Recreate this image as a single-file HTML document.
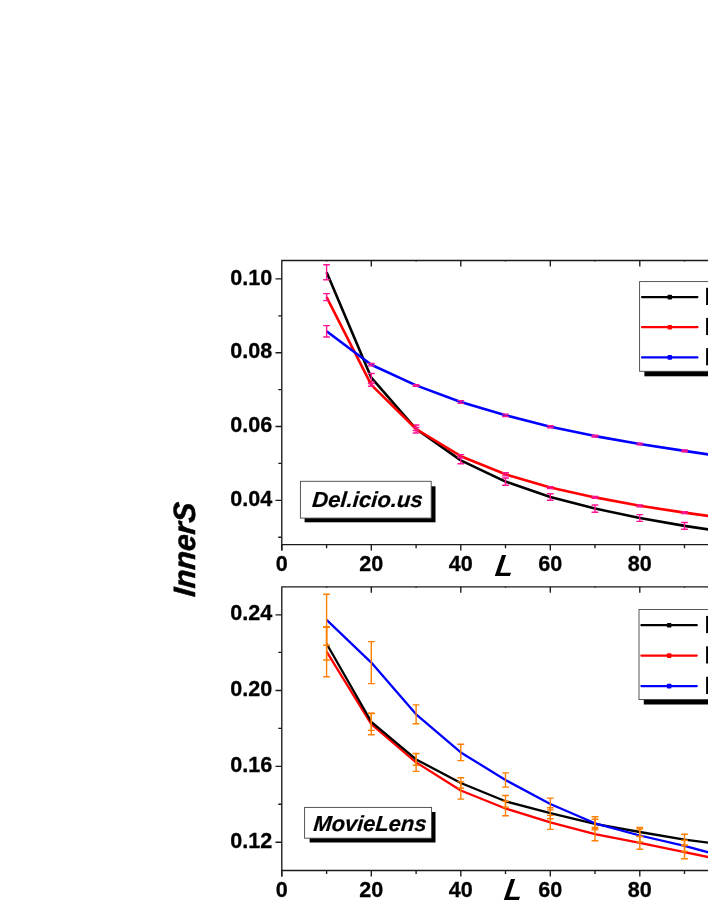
<!DOCTYPE html>
<html><head><meta charset="utf-8"><title>chart</title>
<style>
html,body{margin:0;padding:0;background:#fff;}
body{width:708px;height:917px;overflow:hidden;font-family:"Liberation Sans",sans-serif;}
svg{display:block;will-change:transform;}
.t{stroke:#000;stroke-width:0.3px;font:bold 22.9px "Liberation Sans",sans-serif;fill:#000;}
.b{stroke:#000;stroke-width:0.2px;font:italic bold 21.7px "Liberation Sans",sans-serif;fill:#000;}
.L{font:italic bold 30.4px "Liberation Sans",sans-serif;fill:#000;}
.Y{stroke:#000;stroke-width:0.5px;font:italic bold 30.8px "Liberation Sans",sans-serif;fill:#000;}
</style></head><body>
<svg width="708" height="917" viewBox="0 0 708 917">
<rect width="708" height="917" fill="#fff"/>
<path fill="none" stroke="#1a1a1a" stroke-width="1.35" d="M281.8 260.5 V550.6 M281.2 260.5 H708 M281.2 544.6 H708"/>
<path fill="none" stroke="#1a1a1a" stroke-width="1.35" d="M281.8 544.6 v6 M326.6 544.6 v3.6 M326.6 260.5 v1 M371.3 544.6 v6 M371.3 260.5 v6 M416.1 544.6 v3.6 M416.1 260.5 v1 M460.8 544.6 v6 M460.8 260.5 v6 M505.5 544.6 v3.6 M505.5 260.5 v1 M550.3 544.6 v6 M550.3 260.5 v6 M595.0 544.6 v3.6 M595.0 260.5 v1 M639.8 544.6 v6 M639.8 260.5 v6 M684.5 544.6 v3.6 M684.5 260.5 v1 M275.5 278.9 H281.8 M275.5 352.7 H281.8 M275.5 426.5 H281.8 M275.5 500.3 H281.8 M278.3 315.8 H281.8 M278.3 389.6 H281.8 M278.3 463.4 H281.8 M278.3 537.2 H281.8"/>
<path fill="none" stroke="#1a1a1a" stroke-width="1.35" d="M281.8 586.8 V876.5 M281.2 586.8 H708 M281.2 870.5 H708"/>
<path fill="none" stroke="#1a1a1a" stroke-width="1.35" d="M281.8 870.5 v6 M326.6 870.5 v3.6 M326.6 586.8 v1 M371.3 870.5 v6 M371.3 586.8 v6 M416.1 870.5 v3.6 M416.1 586.8 v1 M460.8 870.5 v6 M460.8 586.8 v6 M505.5 870.5 v3.6 M505.5 586.8 v1 M550.3 870.5 v6 M550.3 586.8 v6 M595.0 870.5 v3.6 M595.0 586.8 v1 M639.8 870.5 v6 M639.8 586.8 v6 M684.5 870.5 v3.6 M684.5 586.8 v1 M275.5 614.8 H281.8 M275.5 690.5 H281.8 M275.5 766.3 H281.8 M275.5 842.2 H281.8 M278.3 652.4 H281.8 M278.3 728.3 H281.8 M278.3 804.2 H281.8"/>
<polyline fill="none" stroke="#000000" stroke-width="2.6" stroke-linejoin="round" points="326.6,272.3 371.3,377.7 416.1,429.0 460.8,460.4 505.5,481.6 550.3,497.0 595.0,508.6 639.8,518.0 684.5,525.9 729.3,532.6"/>
<path fill="none" stroke="#ff1493" stroke-width="1.4" d="M326.6 264.8 V279.8 M323.2 264.8 H329.9 M323.2 279.8 H329.9 M371.3 373.5 V381.9 M367.9 373.5 H374.7 M367.9 381.9 H374.7 M416.1 425.0 V433.0 M412.7 425.0 H419.4 M412.7 433.0 H419.4 M460.8 457.0 V463.8 M457.4 457.0 H464.2 M457.4 463.8 H464.2 M505.5 478.0 V485.2 M502.1 478.0 H508.9 M502.1 485.2 H508.9 M550.3 493.8 V500.2 M546.9 493.8 H553.7 M546.9 500.2 H553.7 M595.0 505.0 V512.2 M591.6 505.0 H598.4 M591.6 512.2 H598.4 M639.8 514.6 V521.4 M636.4 514.6 H643.2 M636.4 521.4 H643.2 M684.5 522.5 V529.3 M681.1 522.5 H687.9 M681.1 529.3 H687.9"/>
<polyline fill="none" stroke="#ff0000" stroke-width="2.6" stroke-linejoin="round" points="326.6,297.1 371.3,384.9 416.1,429.0 460.8,456.2 505.5,474.3 550.3,487.6 595.0,497.4 639.8,505.8 684.5,512.6 729.3,518.8"/>
<path fill="none" stroke="#ff1493" stroke-width="1.4" d="M326.6 293.6 V300.6 M323.2 293.6 H329.9 M323.2 300.6 H329.9 M371.3 383.5 V386.3 M367.9 383.5 H374.7 M367.9 386.3 H374.7 M416.1 427.5 V430.5 M412.7 427.5 H419.4 M412.7 430.5 H419.4 M460.8 454.6 V457.8 M457.4 454.6 H464.2 M457.4 457.8 H464.2 M505.5 472.7 V475.9 M502.1 472.7 H508.9 M502.1 475.9 H508.9 M550.3 486.6 V488.6 M546.9 486.6 H553.7 M546.9 488.6 H553.7 M595.0 496.5 V498.3 M591.6 496.5 H598.4 M591.6 498.3 H598.4 M639.8 504.9 V506.7 M636.4 504.9 H643.2 M636.4 506.7 H643.2 M684.5 511.7 V513.5 M681.1 511.7 H687.9 M681.1 513.5 H687.9"/>
<polyline fill="none" stroke="#0000ff" stroke-width="2.6" stroke-linejoin="round" points="326.6,331.3 371.3,364.7 416.1,385.4 460.8,402.0 505.5,415.3 550.3,426.7 595.0,436.1 639.8,444.0 684.5,450.9 729.3,457.5"/>
<path fill="none" stroke="#ff1493" stroke-width="1.4" d="M326.6 325.6 V337.0 M323.2 325.6 H329.9 M323.2 337.0 H329.9 M371.3 363.5 V365.9 M367.9 363.5 H374.7 M367.9 365.9 H374.7 M416.1 384.6 V386.2 M412.7 384.6 H419.4 M412.7 386.2 H419.4 M460.8 400.6 V403.4 M457.4 400.6 H464.2 M457.4 403.4 H464.2 M505.5 414.1 V416.5 M502.1 414.1 H508.9 M502.1 416.5 H508.9 M550.3 425.7 V427.7 M546.9 425.7 H553.7 M546.9 427.7 H553.7 M595.0 435.2 V437.0 M591.6 435.2 H598.4 M591.6 437.0 H598.4 M639.8 443.1 V444.9 M636.4 443.1 H643.2 M636.4 444.9 H643.2 M684.5 450.0 V451.8 M681.1 450.0 H687.9 M681.1 451.8 H687.9"/>
<polyline fill="none" stroke="#ff0000" stroke-width="2.3" stroke-linejoin="round" points="326.6,651.7 371.3,724.1 416.1,762.4 460.8,790.5 505.5,808.5 550.3,822.4 595.0,834.1 639.8,842.8 684.5,852.2 729.3,861.4"/>
<polyline fill="none" stroke="#000000" stroke-width="2.3" stroke-linejoin="round" points="326.6,643.7 371.3,721.8 416.1,759.4 460.8,783.0 505.5,801.3 550.3,813.2 595.0,823.9 639.8,832.0 684.5,839.6 729.3,845.5"/>
<polyline fill="none" stroke="#0000ff" stroke-width="2.3" stroke-linejoin="round" points="326.6,619.8 371.3,662.6 416.1,714.3 460.8,752.4 505.5,780.0 550.3,804.0 595.0,823.3 639.8,835.5 684.5,845.9 729.3,858.1"/>
<path fill="none" stroke="#ff7f00" stroke-width="1.4" d="M326.6 594.3 V645.3 M323.2 594.3 H329.9 M323.2 645.3 H329.9 M371.3 641.6 V683.6 M367.9 641.6 H374.7 M367.9 683.6 H374.7 M416.1 704.9 V723.7 M412.7 704.9 H419.4 M412.7 723.7 H419.4 M460.8 744.2 V760.6 M457.4 744.2 H464.2 M457.4 760.6 H464.2 M505.5 772.9 V787.1 M502.1 772.9 H508.9 M502.1 787.1 H508.9 M550.3 798.1 V809.9 M546.9 798.1 H553.7 M546.9 809.9 H553.7 M595.0 816.7 V829.9 M591.6 816.7 H598.4 M591.6 829.9 H598.4 M639.8 829.0 V842.0 M636.4 829.0 H643.2 M636.4 842.0 H643.2 M684.5 840.3 V851.5 M681.1 840.3 H687.9 M681.1 851.5 H687.9"/>
<path fill="none" stroke="#ff7f00" stroke-width="1.4" d="M326.6 627.4 V660.0 M323.2 627.4 H329.9 M323.2 660.0 H329.9 M371.3 713.2 V730.4 M367.9 713.2 H374.7 M367.9 730.4 H374.7 M416.1 753.6 V765.2 M412.7 753.6 H419.4 M412.7 765.2 H419.4 M460.8 777.7 V788.3 M457.4 777.7 H464.2 M457.4 788.3 H464.2 M505.5 795.5 V807.1 M502.1 795.5 H508.9 M502.1 807.1 H508.9 M550.3 807.7 V818.7 M546.9 807.7 H553.7 M546.9 818.7 H553.7 M595.0 819.2 V828.6 M591.6 819.2 H598.4 M591.6 828.6 H598.4 M639.8 827.5 V836.5 M636.4 827.5 H643.2 M636.4 836.5 H643.2 M684.5 834.2 V845.0 M681.1 834.2 H687.9 M681.1 845.0 H687.9"/>
<path fill="none" stroke="#ff7f00" stroke-width="1.4" d="M326.6 626.6 V676.8 M323.2 626.6 H329.9 M323.2 676.8 H329.9 M371.3 713.5 V734.7 M367.9 713.5 H374.7 M367.9 734.7 H374.7 M416.1 753.4 V771.4 M412.7 753.4 H419.4 M412.7 771.4 H419.4 M460.8 781.9 V799.1 M457.4 781.9 H464.2 M457.4 799.1 H464.2 M505.5 801.2 V815.8 M502.1 801.2 H508.9 M502.1 815.8 H508.9 M550.3 815.4 V829.4 M546.9 815.4 H553.7 M546.9 829.4 H553.7 M595.0 827.4 V840.8 M591.6 827.4 H598.4 M591.6 840.8 H598.4 M639.8 836.4 V849.2 M636.4 836.4 H643.2 M636.4 849.2 H643.2 M684.5 845.6 V858.8 M681.1 845.6 H687.9 M681.1 858.8 H687.9"/>
<g transform="translate(0.0 0)">
<rect x="644.4" y="286.6" width="80" height="89.7" fill="#000"/>
<rect x="639.6" y="281.6" width="80" height="89.7" fill="#fff" stroke="#444" stroke-width="0.9"/>
<path d="M642 297.1 H697.4" stroke="#000000" stroke-width="2.2" stroke-linecap="round"/>
<rect x="667.5" y="294.8" width="4.6" height="4.6" rx="1" fill="#000000"/>
<rect x="706.1" y="287.8" width="3" height="17.2" fill="#000"/>
<path d="M642 327.2 H697.4" stroke="#ff0000" stroke-width="2.2" stroke-linecap="round"/>
<rect x="667.5" y="324.9" width="4.6" height="4.6" rx="1" fill="#ff0000"/>
<rect x="706.1" y="317.9" width="3" height="17.2" fill="#000"/>
<path d="M642 357.4 H697.4" stroke="#0000ff" stroke-width="2.2" stroke-linecap="round"/>
<rect x="667.5" y="355.1" width="4.6" height="4.6" rx="1" fill="#0000ff"/>
<rect x="706.1" y="348.1" width="3" height="17.2" fill="#000"/>
</g>
<g transform="translate(-0.6 0)">
<rect x="644.4" y="614.5" width="80" height="90.0" fill="#000"/>
<rect x="639.6" y="609.5" width="80" height="90.0" fill="#fff" stroke="#444" stroke-width="0.9"/>
<path d="M642 625.2 H697.4" stroke="#000000" stroke-width="2.2" stroke-linecap="round"/>
<rect x="667.5" y="622.9" width="4.6" height="4.6" rx="1" fill="#000000"/>
<rect x="706.7" y="615.9" width="3" height="17.2" fill="#000"/>
<path d="M642 655.6 H697.4" stroke="#ff0000" stroke-width="2.2" stroke-linecap="round"/>
<rect x="667.5" y="653.3" width="4.6" height="4.6" rx="1" fill="#ff0000"/>
<rect x="706.7" y="646.3" width="3" height="17.2" fill="#000"/>
<path d="M642 686.1 H697.4" stroke="#0000ff" stroke-width="2.2" stroke-linecap="round"/>
<rect x="667.5" y="683.8" width="4.6" height="4.6" rx="1" fill="#0000ff"/>
<rect x="706.7" y="676.8" width="3" height="17.2" fill="#000"/>
</g>
<text transform="translate(272.2 284.5) scale(0.942 1)" text-anchor="end" class="t">0.10</text>
<text transform="translate(272.2 358.3) scale(0.942 1)" text-anchor="end" class="t">0.08</text>
<text transform="translate(272.2 432.1) scale(0.942 1)" text-anchor="end" class="t">0.06</text>
<text transform="translate(272.2 505.9) scale(0.942 1)" text-anchor="end" class="t">0.04</text>
<text transform="translate(272.2 620.4) scale(0.942 1)" text-anchor="end" class="t">0.24</text>
<text transform="translate(272.2 696.1) scale(0.942 1)" text-anchor="end" class="t">0.20</text>
<text transform="translate(272.2 771.9) scale(0.942 1)" text-anchor="end" class="t">0.16</text>
<text transform="translate(272.2 847.8) scale(0.942 1)" text-anchor="end" class="t">0.12</text>
<text transform="translate(281.8 571.3) scale(0.942 1)" text-anchor="middle" class="t">0</text>
<text transform="translate(371.3 571.3) scale(0.942 1)" text-anchor="middle" class="t">20</text>
<text transform="translate(460.8 571.3) scale(0.942 1)" text-anchor="middle" class="t">40</text>
<text transform="translate(550.3 571.3) scale(0.942 1)" text-anchor="middle" class="t">60</text>
<text transform="translate(639.8 571.3) scale(0.942 1)" text-anchor="middle" class="t">80</text>
<text transform="translate(281.8 897.4) scale(0.942 1)" text-anchor="middle" class="t">0</text>
<text transform="translate(371.3 897.4) scale(0.942 1)" text-anchor="middle" class="t">20</text>
<text transform="translate(460.8 897.4) scale(0.942 1)" text-anchor="middle" class="t">40</text>
<text transform="translate(550.3 897.4) scale(0.942 1)" text-anchor="middle" class="t">60</text>
<text transform="translate(639.8 897.4) scale(0.942 1)" text-anchor="middle" class="t">80</text>
<rect x="304.6" y="486.3" width="130.9" height="36" fill="#000"/><rect x="300.4" y="481.3" width="130.8" height="36.8" fill="#fff" stroke="#444" stroke-width="0.9"/>
<text transform="translate(367.1 507.4) scale(1.02 1) skewX(-4.5)" text-anchor="middle" class="b">Del.icio.us</text>
<rect x="309.6" y="812" width="125.9" height="30.5" fill="#000"/><rect x="304.6" y="807.4" width="127" height="30.8" fill="#fff" stroke="#444" stroke-width="0.9"/>
<text transform="translate(369.5 830.8) scale(1.01 1) skewX(-4.5)" text-anchor="middle" class="b">MovieLens</text>
<text transform="translate(503.2 576.1) scale(0.97 1) skewX(-9)" text-anchor="middle" class="L">L</text>
<text transform="translate(512.2 899.7) scale(0.97 1) skewX(-9)" text-anchor="middle" class="L">L</text>
<text transform="translate(195.2 597.2) rotate(-90) scale(0.983 1) skewX(-4.5)" class="Y">InnerS</text>
</svg>
</body></html>
